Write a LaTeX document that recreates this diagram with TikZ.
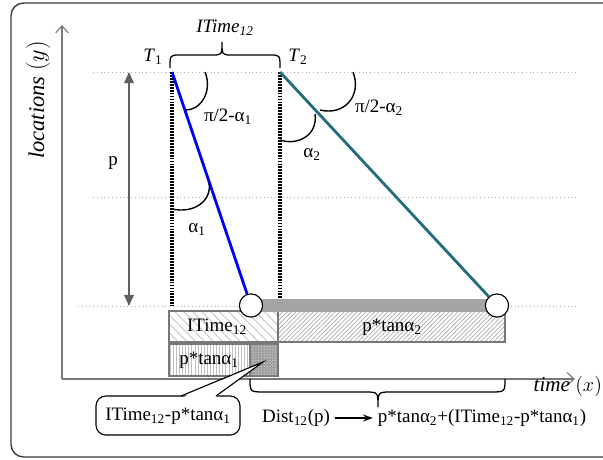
\documentclass[tikz,border=0pt]{standalone}
\usepackage{fontspec}
\setmainfont{Liberation Serif}
\usepackage{tikz}
\usetikzlibrary{arrows.meta,patterns,patterns.meta,positioning}
\definecolor{tsBlue}{RGB}{0,0,255}
\definecolor{tsTeal}{RGB}{34,108,124}
\definecolor{tsGray}{RGB}{120,120,120}
\definecolor{tsBar}{RGB}{165,165,165}
\definecolor{tsFrame}{RGB}{60,60,60}

\begin{document}
\begin{tikzpicture}[x=0.025cm, y=-0.025cm, font=\fontsize{13.5}{16}\selectfont,
  guide/.style={gray!60, dotted, line width=0.7pt},
  tline/.style={black, line width=2.2pt, dash pattern=on 1.3pt off 0.8pt},
  angarc/.style={black, line width=1pt},
  endpt/.style={circle, draw=black, fill=white, line width=0.8pt, minimum size=0.58cm, inner sep=0pt},
  cell/.style={draw=tsGray, line width=0.8pt},
  brc/.style={black, line width=0.9pt}]
\useasboundingbox (0,0) rectangle (603,459);
\draw[tsFrame, line width=1pt, rounded corners=9pt] (11,3) rectangle (625,457);

% axes
\coordinate (o) at (62,379);
\coordinate (ytop) at (62,25);
\coordinate (xend) at (575,379);
\draw[tsGray, line width=0.8pt, -{Straight Barb[length=5pt,width=9pt]}] (o) -- (ytop);
\draw[tsGray, line width=0.8pt, -{Straight Barb[length=5pt,width=9pt]}] (o) -- (xend);
\node[rotate=90, font=\fontsize{16}{18}\selectfont] (ylab) at (38,100) {\textit{locations} $(y)$};
\node[anchor=west, inner sep=1pt, font=\fontsize{15}{17}\selectfont] (xlab) at (532,386) {\textit{time} $(x)$};

% location levels
\draw[guide] (93,72) -- (578,72);
\draw[guide] (93,197) -- (578,197);
\draw[guide] (78,306) -- (578,306);

% distance p
\coordinate (ptop) at (129,72);
\coordinate (pbot) at (129,306);
\draw[tsGray!80!black, line width=0.8pt, {Triangle[length=8pt,width=7pt]}-{Triangle[length=8pt,width=7pt]}] (ptop) -- (pbot);
\node (plab) at (113,163) {p};

% start times
\coordinate (t1) at (172,72);
\coordinate (t1b) at (172,306);
\coordinate (t2) at (280,72);
\coordinate (t2b) at (280,300);
\draw[tline] (t1) -- (t1b);
\draw[tline] (t2) -- (t2b);
\node (T1lab) at (153,57) {\textit{T}\textsubscript{1}};
\node (T2lab) at (298,57) {\textit{T}\textsubscript{2}};

% ITime brace
\draw[brc] (170,68) .. controls (170,55) .. (180,55) -- (212,55) .. controls (222,55) .. (222,42)
  .. controls (222,55) .. (232,55) -- (270,55) .. controls (280,55) .. (280,68);
\node (itop) at (225,28) {\textit{ITime\textsubscript{12}}};

% cells
\draw[cell, pattern={Lines[angle=-45,distance=4.5pt,line width=0.5pt]}, pattern color=gray!55] (169,311) rectangle (278,342);
\draw[cell, pattern={Lines[angle=45,distance=2.2pt,line width=0.5pt]}, pattern color=gray!65] (278,311) rectangle (505,342);
\draw[cell, pattern={Lines[angle=90,distance=2.2pt,line width=0.5pt]}, pattern color=gray!50] (169,344) rectangle (250,376);
\draw[cell, fill=gray!75] (250,344) rectangle (278,376);
\path[pattern={Dots[distance=2pt,radius=0.45pt]}, pattern color=gray!35] (250.5,344.5) rectangle (277.5,375.5);
\node (itl) at (217,327) {ITime\textsubscript{12}};
\node (ptl2) at (392,327) {p*tanα\textsubscript{2}};
\node (ptl1) at (209,360) {p*tanα\textsubscript{1}};

% shift bar
\coordinate (c1) at (251,305.5);
\coordinate (c2) at (497,305.5);
\draw[tsBar, line width=9.2pt] (c1) -- (c2);
\node[endpt] (e1) at (c1) {};
\node[endpt] (e2) at (c2) {};
\draw[tsBlue, line width=2pt] (t1) -- (e1);
\draw[tsTeal, line width=2pt] (t2) -- (e2);

% angles
\draw[angarc] (205,72) .. controls (213,92) and (200,111) .. (185,110);
\draw[angarc] (209,183) .. controls (212,200) and (195,214) .. (172,209);
\draw[angarc] (353,72) .. controls (362,95) and (345,116) .. (320,110);
\draw[angarc] (280,140) .. controls (298,146) and (318,135) .. (315,114);
\node (a1top) at (228,117) {π/2-α\textsubscript{1}};
\node (a1) at (197,230) {α\textsubscript{1}};
\node (a2) at (312,155) {α\textsubscript{2}};
\node (a2top) at (379,108) {π/2-α\textsubscript{2}};

% callout
\coordinate (tip) at (263,362);
\draw[black, line width=0.8pt, fill=white, rounded corners=7pt] (96,396) rectangle (240,435);
\fill[white] (182,397.6) -- (tip) -- (215,397.6) -- cycle;
\draw[black, line width=0.8pt] (181,396) -- (tip) -- (216,396);
\node (gap) at (168,416) {ITime\textsubscript{12}-p*tanα\textsubscript{1}};

% distance brace
\draw[brc] (250,379) .. controls (250,392) .. (265,392) -- (365,392) .. controls (378,392) .. (378,407)
  .. controls (378,392) .. (391,392) -- (490,392) .. controls (505,392) .. (505,379);
\node (dist) at (296,418) {Dist\textsubscript{12}(p)};
\node (sum) at (482,418) {p*tanα\textsubscript{2}+(ITime\textsubscript{12}-p*tanα\textsubscript{1})};
\draw[black, line width=0.8pt, -{Stealth[length=7pt,width=5pt]}] (dist) -- (sum);
\end{tikzpicture}
\end{document}
